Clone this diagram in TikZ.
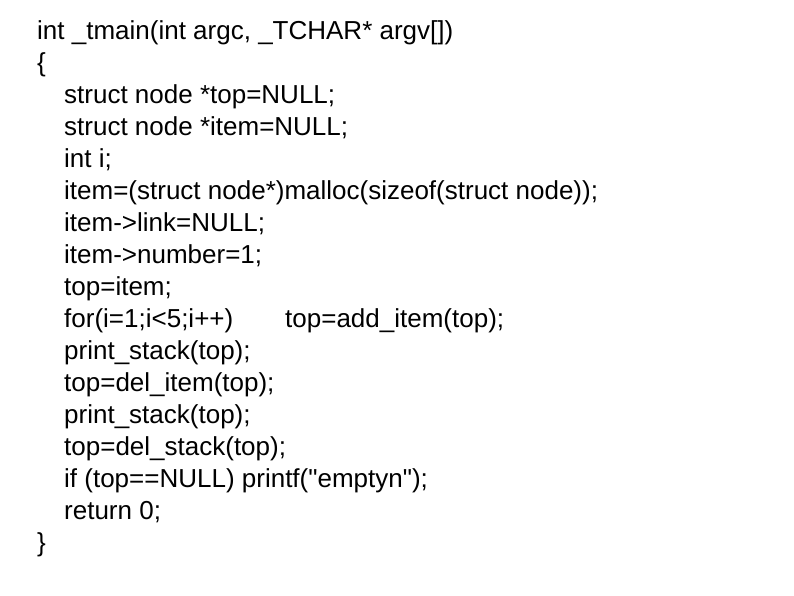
\documentclass[tikz,border=0pt]{standalone}
\usepackage{fontspec}
\setmainfont{Liberation Sans}
\begin{document}
\begin{tikzpicture}[x=1pt,y=-1pt,every node/.style={anchor=base west,inner sep=0pt,font=\fontsize{26}{30}\selectfont}]
\useasboundingbox (0,0) rectangle (794,595);
\node (l1) at (37,39) {int \_tmain(int argc, \_TCHAR* argv[])};
\node (l2) at (37,71) {\{};
\node (l3) at (64,103) {struct node *top=NULL;};
\node (l4) at (64,135) {struct node *item=NULL;};
\node (l5) at (64,167) {int i;};
\node (l6) at (64,199) {item=(struct node*)malloc(sizeof(struct node));};
\node (l7) at (64,231) {item->link=NULL;};
\node (l8) at (64,263) {item->number=1;};
\node (l9) at (64,295) {top=item;};
\node (l10) at (64,327) {for(i=1;i<5;i++)};
\node (l10b) at (285,327) {top=add\_item(top);};
\node (l11) at (64,359) {print\_stack(top);};
\node (l12) at (64,391) {top=del\_item(top);};
\node (l13) at (64,423) {print\_stack(top);};
\node (l14) at (64,455) {top=del\_stack(top);};
\node (l15) at (64,487) {if (top==NULL) printf(\textquotedbl emptyn\textquotedbl);};
\node (l16) at (64,519) {return 0;};
\node (l17) at (37,551) {\}};
\end{tikzpicture}
\end{document}
